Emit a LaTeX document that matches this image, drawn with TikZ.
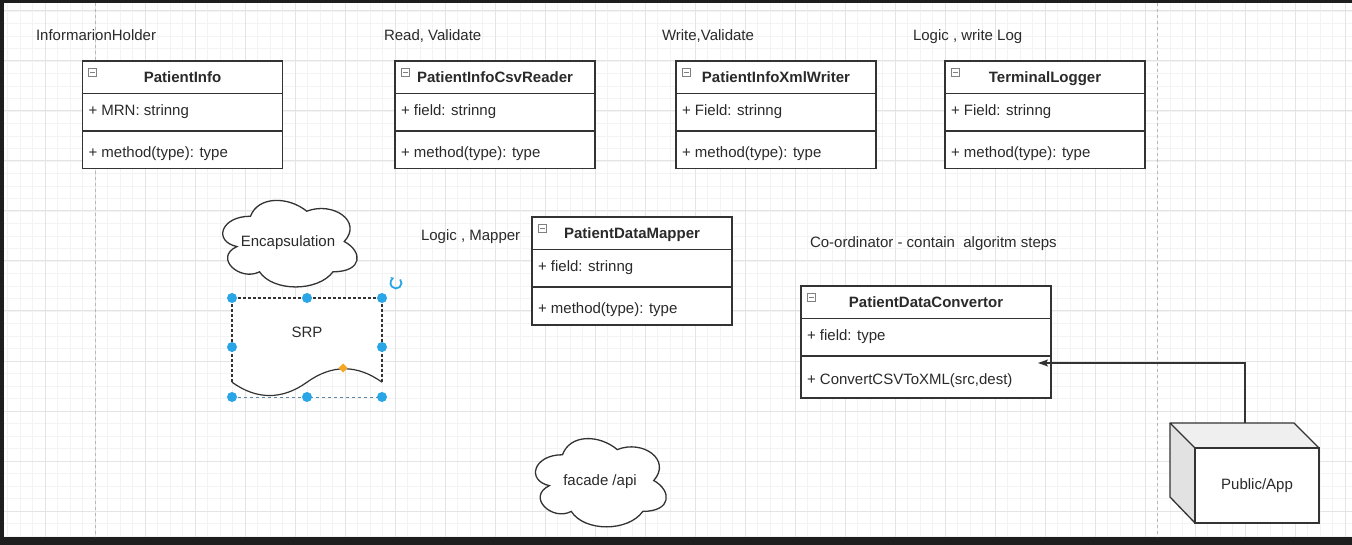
\documentclass[tikz,border=0pt]{standalone}
\usepackage{fontspec}
\setmainfont{Liberation Sans}
\usetikzlibrary{calc,arrows.meta}
\definecolor{framec}{HTML}{1E1E1E}
\definecolor{minorc}{HTML}{F3F3F3}
\definecolor{majorc}{HTML}{E4E4E4}
\definecolor{pagec}{HTML}{B8B8B8}
\definecolor{linec}{HTML}{333333}
\definecolor{textc}{HTML}{2A2A2A}
\definecolor{handlec}{HTML}{2AA6E6}
\definecolor{seldashc}{HTML}{5C86A8}
\definecolor{topface}{HTML}{EFEFEF}
\definecolor{sideface}{HTML}{E2E2E2}
\definecolor{orangec}{HTML}{F5A623}
\newcommand\txtfont{\fontsize{15}{18}\selectfont}
\tikzset{
  txt/.style={inner sep=0pt, outer sep=0pt, text=textc, font=\txtfont, text height=12pt, text depth=1.5pt},
  lbl/.style={txt, anchor=west},
  clsbox/.style={draw=linec, line width=1.2pt, fill=white, inner sep=0pt, outer sep=0pt},
  clsline/.style={draw=linec, line width=1.2pt},
  clstitle/.style={txt, font=\txtfont\bfseries},
  clstext/.style={txt, anchor=west},
  minusicon/.style={draw=gray, line width=0.6pt, fill=white, minimum size=8pt, inner sep=0pt, outer sep=0pt},
  minusbar/.style={draw=gray, line width=0.8pt},
  cloudline/.style={draw=linec, line width=1.3pt, fill=white},
  conn/.style={draw=linec, line width=1.3pt, -{Stealth[length=10pt,width=7pt,inset=2pt]}},
  handle/.style={fill=handlec},
}
\newcommand\umlcls[8]{%
  \node[clsbox, minimum width=#4, minimum height=#5, anchor=north west] (#1) at (#2,#3) {};
  \draw[clsline] ([yshift=-32.5]#1.north west) -- ([yshift=-32.5]#1.north east);
  \draw[clsline] ([yshift=-70]#1.north west) -- ([yshift=-70]#1.north east);
  \node[clstitle] (#1-t) at ([yshift=-16.5]#1.north) {#6};
  \node[clstext] (#1-f) at ([xshift=6,yshift=-49]#1.north west) {#7};
  \node[clstext] (#1-m) at ([xshift=6,yshift={-(75+#5)/2}]#1.north west) {#8};
  \node[minusicon] (#1-i) at ([xshift=10,yshift=-11]#1.north west) {};
  \draw[minusbar] ([xshift=-2.5]#1-i.center) -- ([xshift=2.5]#1-i.center);
}
\newcommand\drawiocloud[4]{%
  \begin{scope}[shift={(#1,#2)}, x=#3pt, y=-#4pt]
    \draw[cloudline] (0.25,0.25) .. controls (0.05,0.25) and (0,0.5) .. (0.16,0.55)
      .. controls (0,0.66) and (0.18,0.9) .. (0.31,0.8)
      .. controls (0.4,1) and (0.7,1) .. (0.8,0.8)
      .. controls (1,0.8) and (1,0.6) .. (0.875,0.5)
      .. controls (1,0.3) and (0.8,0.1) .. (0.625,0.2)
      .. controls (0.5,0.05) and (0.3,0.05) .. (0.25,0.25) -- cycle;
  \end{scope}}
\begin{document}
\begin{tikzpicture}[x=1pt, y=-1pt]
\useasboundingbox (0,0) rectangle (1352,545);
% frame and canvas
\fill[framec] (0,0) rectangle (1352,545);
\fill[white] (4,3) rectangle (1352,537);
% grid
\foreach \x in {7.5,20,...,1352} \draw[minorc, line width=0.8pt] (\x,3) -- (\x,537);
\foreach \y in {11,23.5,...,537} \draw[minorc, line width=0.8pt] (4,\y) -- (1352,\y);
\foreach \x in {45,95,...,1350} \draw[majorc, line width=1pt] (\x,3) -- (\x,537);
\foreach \y in {11,61,...,536} \draw[majorc, line width=1pt] (4,\y) -- (1352,\y);
\draw[pagec, line width=1pt, dash pattern=on 3pt off 3pt] (95,3) -- (95,537);
\draw[pagec, line width=1pt, dash pattern=on 3pt off 3pt] (1157.5,3) -- (1157.5,537);

% labels
\node[lbl] (l1) at (36,35) {InformarionHolder};
\node[lbl] (l2) at (384,35) {Read, Validate};
\node[lbl] (l3) at (662,35) {Write,Validate};
\node[lbl] (l4) at (913,35) {Logic , write Log};
\node[lbl] (l5) at (421,235) {Logic , Mapper};
\node[lbl] (l6) at (810,242) {Co-ordinator - contain~ algoritm steps};

% classes
\umlcls{pinfo}{82.5}{61}{200}{107.5}{PatientInfo}{+ MRN: strinng}{+ method(type): type}
\umlcls{csv}{395}{61}{200}{107.5}{PatientInfoCsvReader}{+ field: strinng}{+ method(type): type}
\umlcls{xml}{676}{61}{200}{107.5}{PatientInfoXmlWriter}{+ Field: strinng}{+ method(type): type}
\umlcls{logger}{945}{61}{200}{107.5}{TerminalLogger}{+ Field: strinng}{+ method(type): type}
\umlcls{mapper}{532}{217}{200}{108}{PatientDataMapper}{+ field: strinng}{+ method(type): type}
\umlcls{conv}{801}{286}{250}{112}{PatientDataConvertor}{+ field: type}{+ ConvertCSVToXML(src,dest)}

% clouds
\drawiocloud{213}{191}{150}{101}
\node[txt] (enc) at (288,241) {Encapsulation};
\drawiocloud{526}{429}{146}{103}
\node[txt] (facade) at (600,480) {facade /api};

% SRP document shape (selected)
\fill[white] (232,298) -- (382,298) -- (382,382.2) .. controls (357,364.3) and (332,364.3) .. (307,382.2)
  .. controls (282,400) and (257,400) .. (232,382.2) -- cycle;
\draw[linec, line width=1.2pt] (382,382.2) .. controls (357,364.3) and (332,364.3) .. (307,382.2)
  .. controls (282,400) and (257,400) .. (232,382.2);
\draw[linec, line width=1.2pt, dash pattern=on 3pt off 2pt] (232,382.2) -- (232,298) -- (382,298) -- (382,382.2);
\draw[seldashc, line width=1pt, dash pattern=on 3pt off 3pt] (232,397) -- (382,397);
\node[txt] (srp) at (307,332) {SRP};
\foreach \p in {(232,298),(307,298),(382,298),(232,347),(382,347),(232,397),(307,397),(382,397)}
  \fill[handle] \p circle (5);
\fill[orangec] (343,363.5) -- (347.5,368) -- (343,372.5) -- (338.5,368) -- cycle;
\draw[handlec, line width=1.8pt, -{Stealth[length=3.5pt,width=4pt]}] (396,283) ++(-40:5.5) arc[start angle=-40, end angle=250, radius=5.5];

% Public/App node (cube)
\fill[topface] (1170,423) -- (1294,423) -- (1319,448) -- (1195,448) -- cycle;
\fill[sideface] (1170,423) -- (1195,448) -- (1195,523) -- (1170,497) -- cycle;
\node[draw=linec, line width=1.3pt, fill=white, minimum width=124, minimum height=75, anchor=north west, inner sep=0pt, outer sep=0pt, text=textc, font=\txtfont] (app) at (1195,448) {Public/App};
\draw[linec, line width=1.3pt, line join=round] (1195,448) -- (1170,423) -- (1294,423) -- (1319,448);
\draw[linec, line width=1.3pt, line join=round] (1170,423) -- (1170,497) -- (1195,523);

% connector
\coordinate (appTop) at (1245,423);
\coordinate (convIn) at (1038,363);
\draw[conn] (appTop) |- (convIn);
\end{tikzpicture}
\end{document}
